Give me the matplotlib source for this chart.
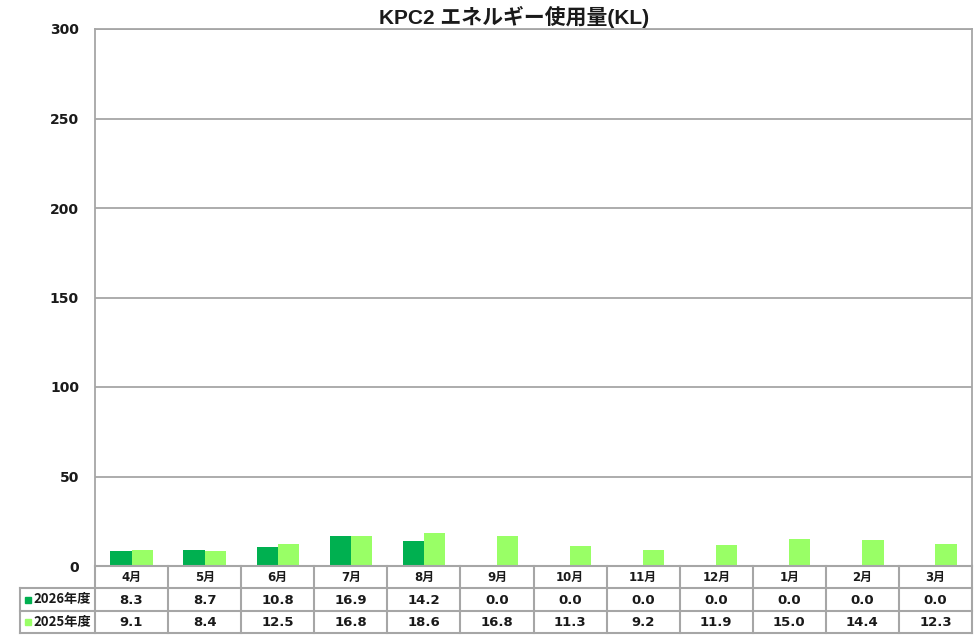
import matplotlib

matplotlib.use("Agg")
import matplotlib.pyplot as plt
import numpy as np

plt.rcParams["font.family"] = ["DejaVu Sans", "Noto Sans CJK JP"]

# Data
months = ["4月", "5月", "6月", "7月", "8月", "9月", "10月", "11月", "12月", "1月", "2月", "3月"]
fy2026 = [8.3, 8.7, 10.8, 16.9, 14.2, 0.0, 0.0, 0.0, 0.0, 0.0, 0.0, 0.0]
fy2025 = [9.1, 8.4, 12.5, 16.8, 18.6, 16.8, 11.3, 9.2, 11.9, 15.0, 14.4, 12.3]
series_names = ["2026年度", "2025年度"]
yticks = [0, 50, 100, 150, 200, 250, 300]
title = "KPC2 エネルギー使用量(KL)"

C_2026 = "#00B050"
C_2025 = "#99FF66"
GRID = "#A6A6A6"
TXT = "#1a1a1a"

W, H = 976, 638
fig = plt.figure(figsize=(W / 100, H / 100), dpi=100)


def fx(px):
    return px / W


def fy(py):
    return 1 - py / H


# plot area in pixels
L, R, T, B = 95, 972, 29, 566
ax = fig.add_axes([fx(L), fy(B), fx(R - L), (B - T) / H])

x = np.arange(len(months))
bw = 0.29
ax.bar(x - bw / 2, fy2026, width=bw, color=C_2026, zorder=3)
ax.bar(x + bw / 2, fy2025, width=bw, color=C_2025, zorder=3)

ax.set_xlim(-0.5, len(months) - 0.5)
ax.set_ylim(0, 300)
ax.set_yticks(yticks)
ax.set_yticklabels([str(v) for v in yticks], fontsize=10, fontweight="bold", color=TXT)
ax.tick_params(axis="y", length=0, pad=11.5)
ax.set_xticks([])
ax.yaxis.grid(True, color=GRID, lw=1.3, zorder=0)
for s in ax.spines.values():
    s.set_color(GRID)
    s.set_linewidth(1.3)

fig.text(fx(514), fy(17), title, ha="center", va="center", fontsize=15, fontweight="bold",
         family=["Liberation Sans", "Noto Sans CJK JP"], color=TXT)

# data table under the plot
rows_y = [566, 588, 611, 633]
tl = 20
colw = (R - L) / len(months)
lkw = dict(color=GRID, lw=1.5, transform=fig.transFigure, clip_on=False)

for yy in rows_y[1:]:
    fig.add_artist(plt.Line2D([fx(tl), fx(R)], [fy(yy)] * 2, **lkw))
fig.add_artist(plt.Line2D([fx(L), fx(R)], [fy(rows_y[0])] * 2, **lkw))
for i in range(len(months) + 1):
    xx = L + i * colw
    fig.add_artist(plt.Line2D([fx(xx)] * 2, [fy(rows_y[0]), fy(rows_y[3])], **lkw))
fig.add_artist(plt.Line2D([fx(tl)] * 2, [fy(rows_y[1]), fy(rows_y[3])], **lkw))

tkw = dict(ha="center", va="center", fontweight="bold", color=TXT)
for i, m in enumerate(months):
    cx = L + (i + 0.5) * colw
    fig.text(fx(cx), fy((rows_y[0] + rows_y[1]) / 2), m, fontsize=8.5, **tkw)
    fig.text(fx(cx), fy((rows_y[1] + rows_y[2]) / 2 + 0.5), f"{fy2026[i]:.1f}", fontsize=9.5, **tkw)
    fig.text(fx(cx), fy((rows_y[2] + rows_y[3]) / 2 + 0.5), f"{fy2025[i]:.1f}", fontsize=9.5, **tkw)

for r, (name, col) in enumerate(zip(series_names, [C_2026, C_2025])):
    cy = (rows_y[r + 1] + rows_y[r + 2]) / 2
    fig.patches.append(plt.Rectangle((fx(25), fy(cy + 3)), fx(6), 6 / H, color=col,
                                     transform=fig.transFigure))
    fig.text(fx(33), fy(cy), name, ha="left", va="center", fontsize=9.5,
             fontweight="bold", family=["Noto Sans CJK JP", "DejaVu Sans"], color=TXT)

fig.savefig("out.png", dpi=100)
